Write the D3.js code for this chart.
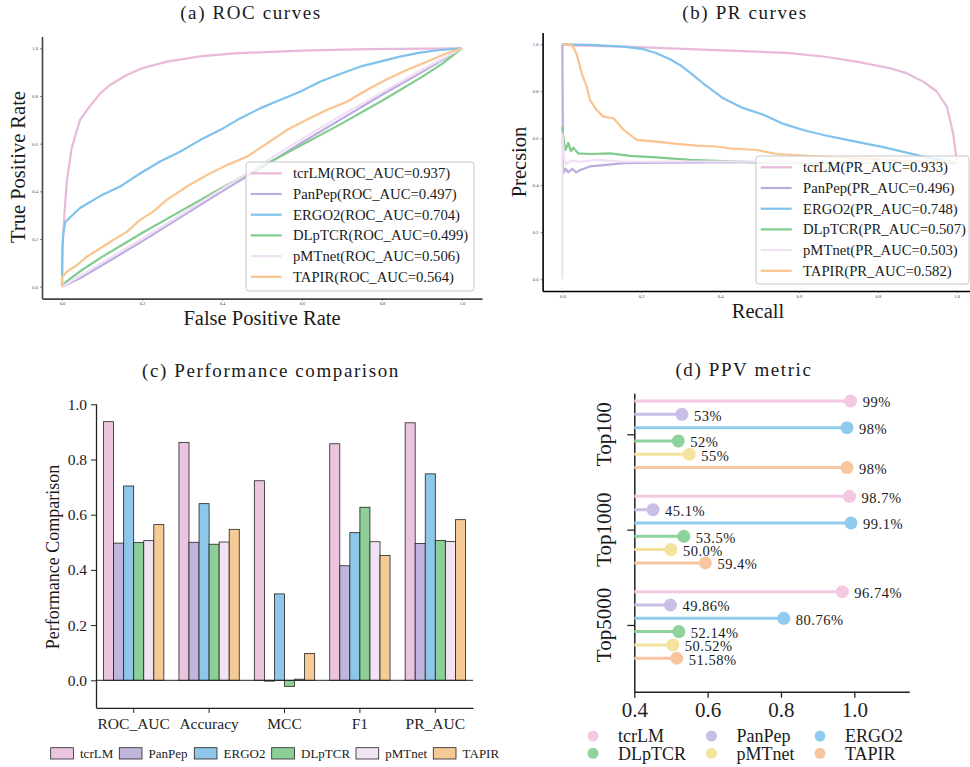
<!DOCTYPE html>
<html>
<head>
<meta charset="utf-8">
<title>tcrLM comparison</title>
<script src="https://cdn.jsdelivr.net/npm/d3@7"></script>
<style>
body { margin: 0; background: #fff; }
svg text { font-family: "Liberation Serif", "Times New Roman", serif; fill: #1a1a1a; }
.title { font-size: 19px; letter-spacing: 1.6px; text-anchor: middle; }
.axlabel { font-size: 20.5px; text-anchor: middle; }
.leg { font-size: 14.7px; }
</style>
</head>
<body>
<svg id="fig" width="970" height="767"></svg>
<script>
// ---- data ----
var models = ["tcrLM", "PanPep", "ERGO2", "DLpTCR", "pMTnet", "TAPIR"];
var lineColors = ["#e9b9da", "#b9acdf", "#7fc2ec", "#80cc8e", "#f1dff5", "#f9c48e"];
var barColors = ["#ebc5df", "#c0b5dd", "#8ec7ea", "#8ecf98", "#f1e2f4", "#f6ca94"];
var dotColors = ["#f3c8e1", "#c9bee5", "#8ecbed", "#8fd39c", "#f3e39d", "#f7c6a0"];

var rocAuc = [0.937, 0.497, 0.704, 0.499, 0.506, 0.564];
var prAuc = [0.933, 0.496, 0.748, 0.507, 0.503, 0.582];

// ROC curves, [fpr, tpr]
var rocTcrLM = [[0,0],[0.001,0.15],[0.003,0.22],[0.007,0.33],[0.012,0.44],[0.024,0.58],[0.045,0.70],[0.062,0.74],[0.095,0.81],[0.12,0.846],[0.162,0.888],[0.2,0.916],[0.262,0.944],[0.345,0.966],[0.43,0.979],[0.6,0.99],[0.76,0.997],[1,1]];
var rocPanPep = [[0,0],[0.05,0.04],[0.1,0.09],[0.2,0.19],[0.3,0.295],[0.4,0.4],[0.5,0.5],[0.6,0.605],[0.7,0.705],[0.8,0.805],[0.9,0.9],[1,1]];
var rocERGO2 = [[0,0],[0.001,0.15],[0.003,0.22],[0.008,0.27],[0.02,0.29],[0.045,0.33],[0.095,0.38],[0.145,0.42],[0.195,0.475],[0.245,0.525],[0.295,0.566],[0.345,0.615],[0.395,0.657],[0.445,0.706],[0.495,0.748],[0.545,0.783],[0.595,0.818],[0.645,0.86],[0.695,0.892],[0.745,0.923],[0.795,0.944],[0.845,0.965],[0.895,0.982],[0.945,0.993],[1,1]];
var rocDLpTCR = [[0,0],[0.01,0.02],[0.05,0.07],[0.1,0.125],[0.2,0.225],[0.3,0.32],[0.4,0.415],[0.5,0.505],[0.6,0.595],[0.7,0.685],[0.8,0.78],[0.9,0.88],[0.95,0.935],[1,1]];
var rocPMTnet = [[0,0],[0.05,0.05],[0.1,0.1],[0.2,0.2],[0.3,0.305],[0.4,0.41],[0.5,0.515],[0.6,0.62],[0.7,0.72],[0.8,0.815],[0.9,0.91],[1,1]];
var rocTAPIR = [[0,0],[0,0.04],[0.012,0.063],[0.037,0.09],[0.062,0.126],[0.095,0.16],[0.128,0.196],[0.162,0.23],[0.195,0.28],[0.228,0.315],[0.262,0.364],[0.312,0.42],[0.362,0.468],[0.412,0.51],[0.462,0.545],[0.512,0.60],[0.562,0.657],[0.612,0.70],[0.662,0.741],[0.712,0.776],[0.762,0.825],[0.812,0.87],[0.862,0.909],[0.912,0.944],[0.962,0.979],[1,1]];

// PR curves, [recall, precision]
var prTcrLM = [[0,1.0],[0.02,0.995],[0.155,0.99],[0.324,0.979],[0.493,0.969],[0.577,0.962],[0.662,0.948],[0.746,0.926],[0.831,0.898],[0.873,0.877],[0.915,0.841],[0.949,0.80],[0.975,0.735],[0.991,0.62],[1.0,0.508]];
var prPanPep = [[0,1.0],[0.002,0.45],[0.008,0.47],[0.015,0.455],[0.025,0.47],[0.035,0.455],[0.045,0.465],[0.07,0.48],[0.112,0.487],[0.155,0.494],[0.239,0.496],[0.493,0.498],[1.0,0.498]];
var prERGO2 = [[0,1.0],[0.07,0.997],[0.155,0.99],[0.205,0.979],[0.239,0.962],[0.273,0.936],[0.298,0.912],[0.324,0.879],[0.357,0.834],[0.408,0.77],[0.459,0.728],[0.51,0.70],[0.561,0.661],[0.611,0.635],[0.662,0.614],[0.713,0.596],[0.763,0.579],[0.814,0.562],[0.865,0.542],[0.916,0.522],[0.966,0.505],[1.0,0.496]];
var prDLpTCR = [[0,0.65],[0.004,0.586],[0.008,0.55],[0.015,0.58],[0.022,0.545],[0.028,0.56],[0.04,0.536],[0.07,0.533],[0.121,0.536],[0.172,0.525],[0.239,0.519],[0.324,0.508],[0.493,0.497],[0.662,0.495],[1.0,0.494]];
var prPMTnet = [[0,0],[0,0.62],[0.004,0.52],[0.01,0.49],[0.02,0.505],[0.045,0.50],[0.087,0.508],[0.155,0.50],[0.324,0.501],[1.0,0.5]];
var prTAPIR = [[0,1.0],[0.024,0.997],[0.03,0.98],[0.037,0.954],[0.049,0.877],[0.062,0.82],[0.07,0.763],[0.087,0.72],[0.104,0.692],[0.13,0.685],[0.155,0.636],[0.189,0.593],[0.239,0.586],[0.29,0.576],[0.341,0.569],[0.391,0.565],[0.425,0.557],[0.493,0.55],[0.544,0.533],[0.62,0.525],[0.704,0.519],[0.789,0.511],[0.873,0.504],[1.0,0.497]];

// bar chart
var metrics = ["ROC_AUC", "Accuracy", "MCC", "F1", "PR_AUC"];
var scoreTcrLM = [0.937, 0.862, 0.723, 0.857, 0.933];
var scorePanPep = [0.497, 0.500, -0.003, 0.415, 0.496];
var scoreERGO2 = [0.704, 0.640, 0.313, 0.535, 0.748];
var scoreDLpTCR = [0.499, 0.493, -0.022, 0.627, 0.507];
var scorePMTnet = [0.506, 0.501, 0.004, 0.502, 0.503];
var scoreTAPIR = [0.564, 0.547, 0.097, 0.452, 0.582];

// PPV lollipops
var ppvGroups = ["Top100", "Top1000", "Top5000"];
var ppvTop100 = [0.99, 0.53, 0.98, 0.52, 0.55, 0.98];
var ppvTop1000 = [0.987, 0.451, 0.991, 0.535, 0.500, 0.594];
var ppvTop5000 = [0.9674, 0.4986, 0.8076, 0.5214, 0.5052, 0.5158];
var ppvFormats = [".0%", ".1%", ".2%"];

var rocCurves = [rocTcrLM, rocPanPep, rocERGO2, rocDLpTCR, rocPMTnet, rocTAPIR];
var prCurves = [prTcrLM, prPanPep, prERGO2, prDLpTCR, prPMTnet, prTAPIR];
var scores = [scoreTcrLM, scorePanPep, scoreERGO2, scoreDLpTCR, scorePMTnet, scoreTAPIR];
var ppv = [ppvTop100, ppvTop1000, ppvTop5000];

var svg = d3.select("#fig");
var ticks01 = [0, 0.2, 0.4, 0.6, 0.8, 1.0];

// small matplotlib-like axes with tiny tick labels
function tinyAxes(g, x, y, spineColor) {
  var bx = g.append("g").attr("transform", "translate(0," + y.range()[0] + ")")
    .call(d3.axisBottom(x).tickValues(ticks01).tickFormat(d3.format(".1f")).tickSize(2).tickSizeOuter(0).tickPadding(1.5));
  var ly = g.append("g").attr("transform", "translate(" + x.range()[0] + ",0)")
    .call(d3.axisLeft(y).tickValues(ticks01).tickFormat(d3.format(".1f")).tickSize(2).tickSizeOuter(0).tickPadding(2));
  [bx, ly].forEach(function(a) {
    a.select(".domain").attr("stroke", spineColor).attr("stroke-width", 1.6);
    a.selectAll(".tick line").attr("stroke", "#333").attr("stroke-width", 0.6);
    a.selectAll("text").style("font-size", "4.6px").style("fill", "#444");
  });
}

function drawLegend(g, x, y, w, h, labels) {
  g.append("rect").attr("x", x).attr("y", y).attr("width", w).attr("height", h)
    .attr("rx", 3).attr("fill", "#fff").attr("fill-opacity", 0.8)
    .attr("stroke", "#c8c8c8").attr("stroke-width", 1);
  labels.forEach(function(t, i) {
    var yy = y + 11.3 + i * 20.7;
    g.append("line").attr("x1", x + 4.7).attr("x2", x + 35.7).attr("y1", yy).attr("y2", yy)
      .attr("stroke", lineColors[i]).attr("stroke-width", 2.2);
    g.append("text").attr("class", "leg").attr("x", x + 47).attr("y", yy).attr("dy", "0.33em").text(t);
  });
}

// ---------- (a) ROC curves ----------
var gA = svg.append("g");
var rocX = d3.scaleLinear().domain([-0.05, 1.05]).range([42, 482]);
var rocY = d3.scaleLinear().domain([-0.05, 1.05]).range([298.6, 36.4]);
tinyAxes(gA, rocX, rocY, "#444");
var rocLine = d3.line().x(function(d) { return rocX(d[0]); }).y(function(d) { return rocY(d[1]); });
rocCurves.forEach(function(c, i) {
  gA.append("path").datum(c).attr("d", rocLine).attr("fill", "none")
    .attr("stroke", lineColors[i]).attr("stroke-width", 2.2).attr("stroke-linejoin", "round");
});
drawLegend(gA, 246, 162, 228, 129, models.map(function(m, i) { return m + "(ROC_AUC=" + rocAuc[i].toFixed(3) + ")"; }));
gA.append("text").attr("class", "title").attr("x", 251).attr("y", 19).text("(a) ROC curves");
gA.append("text").attr("class", "axlabel").attr("x", 262).attr("y", 324.5).text("False Positive Rate");
gA.append("text").attr("class", "axlabel").attr("transform", "translate(25,167) rotate(-90)").text("True Positive Rate");

// ---------- (b) PR curves ----------
var gB = svg.append("g");
var prX = d3.scaleLinear().domain([-0.05, 1.05]).range([542.6, 976.4]);
var prY = d3.scaleLinear().domain([-0.05, 1.05]).range([291, 32.5]);
tinyAxes(gB, prX, prY, "#000");
var prLine = d3.line().x(function(d) { return prX(d[0]); }).y(function(d) { return prY(d[1]); });
prCurves.forEach(function(c, i) {
  gB.append("path").datum(c).attr("d", prLine).attr("fill", "none")
    .attr("stroke", lineColors[i]).attr("stroke-width", 2.2).attr("stroke-linejoin", "round");
});
drawLegend(gB, 756, 156, 213, 128, models.map(function(m, i) { return m + "(PR_AUC=" + prAuc[i].toFixed(3) + ")"; }));
gB.append("text").attr("class", "title").attr("x", 745).attr("y", 19).text("(b) PR curves");
gB.append("text").attr("class", "axlabel").attr("x", 758).attr("y", 318).text("Recall");
gB.append("text").attr("class", "axlabel").attr("transform", "translate(526,162) rotate(-90)").text("Precsion");

// ---------- (c) Performance comparison ----------
var gC = svg.append("g");
var barX = d3.scaleBand().domain(metrics).range([96, 473]);
var subX = d3.scaleBand().domain(models).range([0, barX.bandwidth() * 0.8]);
var barY = d3.scaleLinear().domain([-0.1, 1.0]).range([707.9, 404.3]);

var yAx = gC.append("g").attr("transform", "translate(96,0)")
  .call(d3.axisLeft(barY).tickValues(ticks01).tickFormat(d3.format(".1f")).tickSize(5).tickSizeOuter(0).tickPadding(4));
yAx.select(".domain").attr("d", "M0.5," + barY(1.0) + "V" + barY(-0.1));
var xAx = gC.append("g").attr("transform", "translate(0," + barY(-0.1) + ")")
  .call(d3.axisBottom(barX).tickSize(5).tickSizeOuter(0).tickPadding(5));
[yAx, xAx].forEach(function(a) {
  a.select(".domain").attr("stroke", "#222").attr("stroke-width", 1.3);
  a.selectAll(".tick line").attr("stroke", "#222").attr("stroke-width", 1);
  a.selectAll("text").style("font-size", "15.5px").style("fill", "#222");
});

models.forEach(function(m, i) {
  gC.selectAll(".bar" + i).data(scores[i]).enter().append("rect")
    .attr("x", function(d, j) { return barX(metrics[j]) + barX.bandwidth() * 0.1 + subX(m); })
    .attr("y", function(d) { return barY(Math.max(0, d)); })
    .attr("width", subX.bandwidth())
    .attr("height", function(d) { return Math.abs(barY(d) - barY(0)); })
    .attr("fill", barColors[i]).attr("stroke", "#222").attr("stroke-width", 0.8);
});
gC.append("line").attr("x1", 96).attr("x2", 473).attr("y1", barY(0)).attr("y2", barY(0))
  .attr("stroke", "#222").attr("stroke-width", 1);

gC.append("text").attr("class", "title").attr("x", 271).attr("y", 377).text("(c) Performance comparison");
gC.append("text").attr("transform", "translate(59,557) rotate(-90)").attr("text-anchor", "middle")
  .style("font-size", "18px").text("Performance Comparison");

var legC = [50.7, 119.3, 194.3, 271.7, 356, 433.3];
models.forEach(function(m, i) {
  gC.append("rect").attr("x", legC[i]).attr("y", 747.7).attr("width", 22.7).attr("height", 11.3)
    .attr("fill", barColors[i]).attr("stroke", "#222").attr("stroke-width", 0.8);
  gC.append("text").attr("x", legC[i] + 29.3).attr("y", 753.3).attr("dy", "0.35em")
    .style("font-size", "13px").text(m);
});

// ---------- (d) PPV metric ----------
var gD = svg.append("g");
var ppvX = d3.scaleLinear().domain([0.4, 1.15]).range([634.3, 909.3]);
var ppvY = d3.scaleLinear().domain([-0.43, 2.7]).range([393.3, 691.7]);
var rowStep = 0.1396;

var pxAx = gD.append("g").attr("transform", "translate(0," + ppvY(2.7) + ")")
  .call(d3.axisBottom(ppvX).tickValues([0.4, 0.6, 0.8, 1.0]).tickFormat(d3.format(".1f")).tickSize(6).tickSizeOuter(0).tickPadding(4));
var pyAx = gD.append("g").attr("transform", "translate(634.3,0)")
  .call(d3.axisLeft(ppvY).tickValues([0, 1, 2]).tickFormat("").tickSize(7).tickSizeOuter(0));
[pxAx, pyAx].forEach(function(a) {
  a.select(".domain").attr("stroke", "#222").attr("stroke-width", 1.5);
  a.selectAll(".tick line").attr("stroke", "#222").attr("stroke-width", 1.3);
  a.selectAll("text").style("font-size", "21px").style("fill", "#222");
});
ppvGroups.forEach(function(grp, g) {
  gD.append("text").attr("transform", "translate(611," + ppvY(g) + ") rotate(-90)")
    .attr("text-anchor", "middle").style("font-size", "21px").text(grp);
  var fmt = d3.format(ppvFormats[g]);
  ppv[g].forEach(function(v, i) {
    var yy = ppvY(g + (i - 2.5) * rowStep);
    gD.append("line").attr("x1", ppvX(0.4)).attr("x2", ppvX(v)).attr("y1", yy).attr("y2", yy)
      .attr("stroke", dotColors[i]).attr("stroke-width", 3);
    gD.append("circle").attr("cx", ppvX(v)).attr("cy", yy).attr("r", 6.5).attr("fill", dotColors[i]);
    gD.append("text").attr("x", ppvX(v) + 12).attr("y", yy + 1.5).attr("dy", "0.33em")
      .style("font-size", "14.5px").style("letter-spacing", "0.5px").text(fmt(v));
  });
});
gD.append("text").attr("class", "title").attr("x", 744).attr("y", 376).text("(d) PPV metric");

var legDx = [593, 711.5, 820];
models.forEach(function(m, i) {
  var cx = legDx[i % 3], cy = i < 3 ? 736 : 753.3;
  gD.append("circle").attr("cx", cx).attr("cy", cy).attr("r", 5.5).attr("fill", dotColors[i]);
  gD.append("text").attr("x", cx + 25).attr("y", cy).attr("dy", "0.35em").style("font-size", "18px").text(m);
});
</script>
</body>
</html>
